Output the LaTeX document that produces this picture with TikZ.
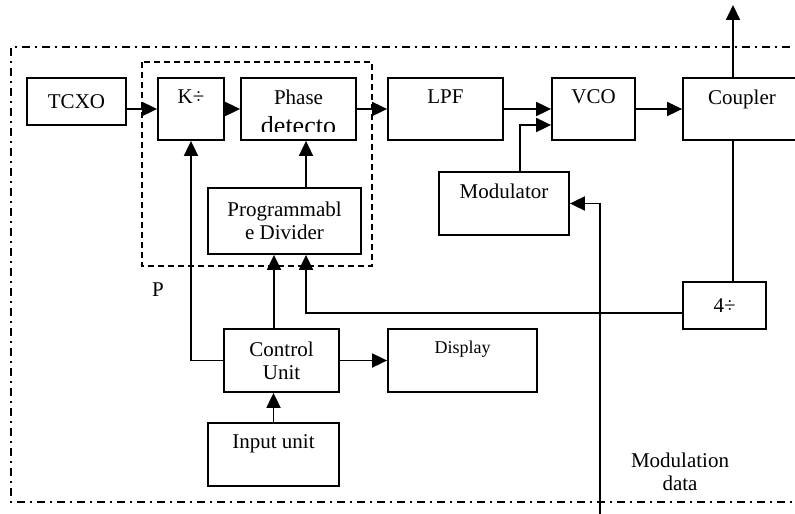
\documentclass[tikz,border=0pt]{standalone}
\usepackage{fontspec}
\setmainfont{Liberation Serif}
\usetikzlibrary{arrows.meta,positioning,calc}

\begin{document}
\begin{tikzpicture}[x=0.5pt,y=-0.5pt,line width=0.9pt,
  font=\fontsize{10.5}{11.5}\selectfont,
  blk/.style={draw,rectangle,inner sep=0pt},
  lbl/.style={anchor=north,inner sep=6pt},
  arr/.style={-{Triangle[length=7.5pt,width=7pt]}},
  outerbox/.style={dash pattern=on 4pt off 2.5pt on 1pt off 2.5pt},
  pllbox/.style={dash pattern=on 3pt off 2pt}]
\useasboundingbox (0,0) rectangle (795,513);
\clip (0,0) rectangle (795,513);
\draw[outerbox] (830,47) -- (11,47) -- (11,502) -- (830,502);
\draw[pllbox] (142,62) rectangle (372,266);

\node[blk,minimum width=49.5pt,minimum height=23.5pt] (tcxo) at (76.5,101.5) {TCXO};
\node[blk,minimum width=33pt,minimum height=31pt,label={[lbl]north:K÷}] (kdiv) at (191,109) {};
\node[blk,minimum width=57.5pt,minimum height=31pt,label={[lbl]north:Phase}] (phase) at (298.5,109) {};
\begin{scope}
\clip (241,78) rectangle (356,132);
\node[anchor=base,font=\fontsize{13}{14}\selectfont] (phasetxt) at (298.5,134) {detecto};
\end{scope}
\node[blk,minimum width=76.5pt,minimum height=33pt,align=center] (prog) at (284.5,221) {Programmabl\\e Divider};
\node[blk,minimum width=57.5pt,minimum height=31pt,label={[lbl]north:LPF}] (lpf) at (445.5,109) {};
\node[blk,minimum width=41.5pt,minimum height=31pt,label={[lbl]north:VCO}] (vco) at (593.5,109) {};
\node[blk,minimum width=59pt,minimum height=31pt,label={[lbl]north:Coupler}] (coupler) at (742,109) {};
\node[blk,minimum width=65pt,minimum height=31.5pt,label={[lbl]north:Modulator}] (mod) at (504,203.5) {};
\node[blk,minimum width=41.5pt,minimum height=23.5pt] (div4) at (724.5,305.5) {4÷};
\node[blk,minimum width=57.5pt,minimum height=31.5pt,align=center] (ctrl) at (281.5,360.5) {Control\\Unit};
\node[blk,minimum width=74.5pt,minimum height=31.5pt,label={[lbl,font=\fontsize{9}{10}\selectfont]north:Display}] (disp) at (462.5,360.5) {};
\node[blk,minimum width=65.5pt,minimum height=31.5pt,label={[lbl]north:Input unit}] (input) at (273.5,454.5) {};

\node (plbl) at (158,290) {P};
\node[align=center] (mdlbl) at (680,471.5) {Modulation\\data};

\coordinate (out) at (733,5);
\coordinate (fb) at (306,313);
\coordinate (md) at (600,515);

\draw[arr] (tcxo.east |- kdiv.west) -- (kdiv.west);
\draw[arr] (kdiv.east) -- (phase.west);
\draw[arr] (phase.east) -- (lpf.west);
\draw[arr] (lpf.east) -- (vco.west);
\draw[arr] ([xshift=8pt]mod.north) |- ([yshift=-8pt]vco.west);
\draw[arr] (vco.east) -- (coupler.west);
\draw[arr] (coupler.north -| out) -- (out);
\draw (coupler.south -| out) -- (div4.north -| out);
\draw[arr] (div4.west |- fb) -- (fb) -- (fb |- prog.south);
\draw[arr] (prog.north -| fb) -- (phase.south -| fb);
\draw[arr] ([xshift=-3.75pt]ctrl.north) -- ([xshift=-3.75pt]ctrl.north |- prog.south);
\draw[arr] (ctrl.west) -| (kdiv.south);
\draw[arr] (ctrl.east) -- (disp.west);
\draw[arr] (input.north) -- (input.north |- ctrl.south);
\draw[arr] (md) |- (mod.east);
\end{tikzpicture}
\end{document}
